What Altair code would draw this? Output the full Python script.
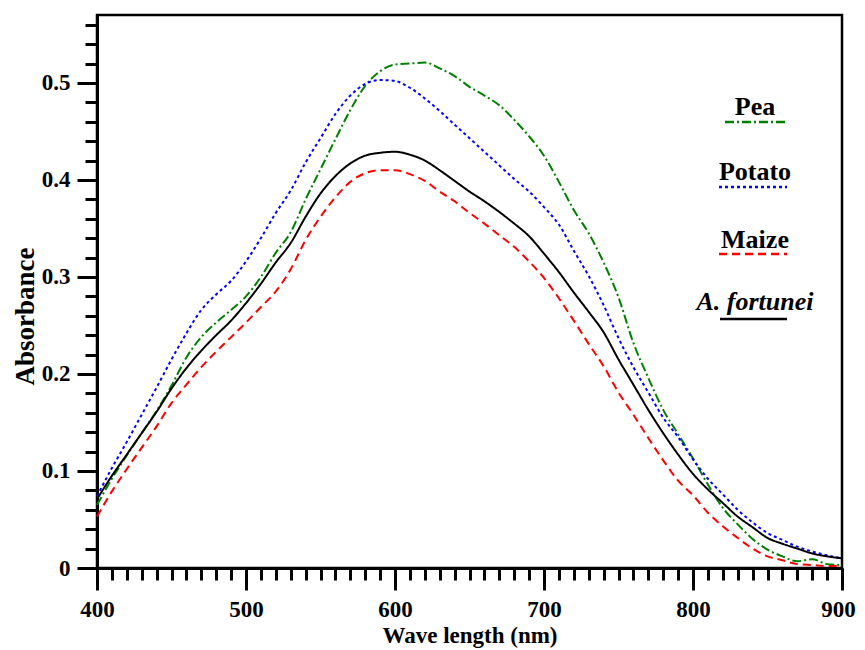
import altair as alt
import pandas as pd

wavelength = list(range(400, 901, 10))

pea = [0.065, 0.092, 0.116, 0.139, 0.162, 0.188, 0.217, 0.238, 0.253, 0.266,
       0.280, 0.300, 0.325, 0.346, 0.380, 0.411, 0.442, 0.472, 0.497, 0.512,
       0.519, 0.520, 0.521, 0.515, 0.507, 0.496, 0.487, 0.477, 0.462, 0.445,
       0.425, 0.398, 0.369, 0.345, 0.315, 0.279, 0.232, 0.196, 0.163, 0.138,
       0.113, 0.086, 0.062, 0.045, 0.030, 0.019, 0.012, 0.007, 0.009, 0.004,
       0.003]
potato = [0.074, 0.103, 0.130, 0.158, 0.186, 0.215, 0.242, 0.266, 0.282, 0.296,
          0.316, 0.340, 0.366, 0.389, 0.418, 0.443, 0.468, 0.487, 0.499, 0.503,
          0.502, 0.495, 0.484, 0.471, 0.457, 0.443, 0.429, 0.415, 0.401, 0.388,
          0.372, 0.354, 0.327, 0.301, 0.271, 0.237, 0.207, 0.181, 0.155, 0.135,
          0.112, 0.092, 0.076, 0.060, 0.047, 0.036, 0.029, 0.022, 0.017, 0.013,
          0.010]
maize = [0.053, 0.079, 0.102, 0.124, 0.146, 0.170, 0.189, 0.207, 0.223, 0.238,
         0.253, 0.269, 0.285, 0.308, 0.338, 0.362, 0.382, 0.398, 0.407, 0.410,
         0.410, 0.406, 0.399, 0.388, 0.378, 0.366, 0.355, 0.343, 0.331, 0.316,
         0.299, 0.278, 0.255, 0.231, 0.208, 0.181, 0.158, 0.134, 0.111, 0.090,
         0.075, 0.057, 0.043, 0.031, 0.020, 0.012, 0.008, 0.004, 0.003, 0.002,
         0.002]
fortunei = [0.071, 0.095, 0.117, 0.139, 0.161, 0.185, 0.206, 0.224, 0.240, 0.255,
            0.273, 0.293, 0.315, 0.335, 0.362, 0.386, 0.404, 0.417, 0.425, 0.428,
            0.429, 0.426, 0.420, 0.410, 0.399, 0.388, 0.378, 0.367, 0.355, 0.342,
            0.324, 0.305, 0.284, 0.264, 0.243, 0.215, 0.189, 0.163, 0.139, 0.117,
            0.097, 0.081, 0.067, 0.053, 0.042, 0.031, 0.025, 0.020, 0.015, 0.012,
            0.010]

series_names = ["Pea", "Potato", "Maize", "A. fortunei"]
series_colors = ["#008000", "#0000ff", "#ff0000", "#000000"]
series_dash = [[9, 3, 2, 3], [3, 3], [8, 5], [1, 0]]

x_major = [400, 500, 600, 700, 800, 900]
x_minor = list(range(400, 901, 10))
y_major = [0, 0.1, 0.2, 0.3, 0.4, 0.5]
y_minor = [round(i * 0.02, 2) for i in range(0, 29)]

rows = []
for name, vals in zip(series_names, [pea, potato, maize, fortunei]):
    for w, v in zip(wavelength, vals):
        rows.append({"wavelength": w, "absorbance": v, "series": name})
df = pd.DataFrame(rows)

FONT = "Liberation Serif"

color_scale = alt.Scale(domain=series_names, range=series_colors)
dash_scale = alt.Scale(domain=series_names, range=series_dash)
xs = alt.Scale(domain=[400, 900], nice=False)
ys = alt.Scale(domain=[0, 0.57], nice=False)

axis_style = dict(
    labelFont=FONT, labelFontSize=23, labelFontWeight="bold", labelColor="black",
    titleFont=FONT, titleFontWeight="bold", titleColor="black",
    domainColor="black", tickColor="black", grid=False, labelFlush=False,
    labelOverlap=False,
)

major = alt.Chart(df).mark_line(strokeWidth=2, interpolate="monotone").encode(
    x=alt.X("wavelength:Q", scale=xs,
            axis=alt.Axis(values=x_major, orient="bottom", title="Wave length (nm)",
                          tickSize=22, tickWidth=3, domainWidth=3, labelPadding=8,
                          labelOffset={"condition": {"test": "datum.value == 900", "value": -4}, "value": 0},
                          format="d", titleY=56, titleBaseline="top", titleFontSize=23,
                          **axis_style)),
    y=alt.Y("absorbance:Q", scale=ys,
            axis=alt.Axis(values=y_major, orient="left", title="Absorbance",
                          tickSize=20, tickWidth=3, domainWidth=3, labelPadding=7,
                          labelExpr="datum.value == 0 ? '0' : format(datum.value, '.1f')",
                          titleX=-72, titleY=301, titleAngle=-90, titleBaseline="middle",
                          titleFontSize=27, **axis_style)),
    color=alt.Color("series:N", scale=color_scale, legend=None),
    strokeDash=alt.StrokeDash("series:N", scale=dash_scale, legend=None),
    detail="series:N",
)

minor = alt.Chart(df).mark_line(opacity=0).encode(
    x=alt.X("wavelength:Q", scale=xs,
            axis=alt.Axis(values=x_minor, orient="bottom", title=None, labels=False,
                          tickSize=12, tickWidth=3, domain=False, **axis_style)),
    y=alt.Y("absorbance:Q", scale=ys,
            axis=alt.Axis(values=y_minor, orient="left", title=None, labels=False,
                          tickSize=12, tickWidth=3, domain=False, **axis_style)),
    detail="series:N",
)

legend_layers = []
legend_text_y = [100, 165, 233, 295]
legend_line_y = [107, 172, 239, 304]
legend_line_x0 = [628, 622, 622, 623]
for i, name in enumerate(series_names):
    one = pd.DataFrame({"series": [name]})
    legend_layers.append(
        alt.Chart(one).mark_rule(strokeWidth=2.5).encode(
            x=alt.value(legend_line_x0[i]), x2=alt.value(690),
            y=alt.value(legend_line_y[i]),
            color=alt.Color("series:N", scale=color_scale, legend=None),
            strokeDash=alt.StrokeDash("series:N", scale=dash_scale, legend=None),
        )
    )
    legend_layers.append(
        alt.Chart(one).mark_text(
            font=FONT, fontSize=26, fontWeight="bold",
            fontStyle="italic" if name == "A. fortunei" else "normal",
            align="center", baseline="alphabetic", color="black",
        ).encode(
            x=alt.value(658), y=alt.value(legend_text_y[i]), text="series:N"
        )
    )

chart = alt.layer(major, minor, *legend_layers).resolve_axis(
    x="independent", y="independent"
).properties(
    width=745, height=553,
    background="white",
    autosize=alt.AutoSizeParams(type="none"),
    padding={"left": 89, "top": 7, "right": 15, "bottom": 80},
).configure_view(
    stroke="black", strokeWidth=2.5
)

chart.save("out.html", embed_options={"renderer": "svg", "actions": False})
